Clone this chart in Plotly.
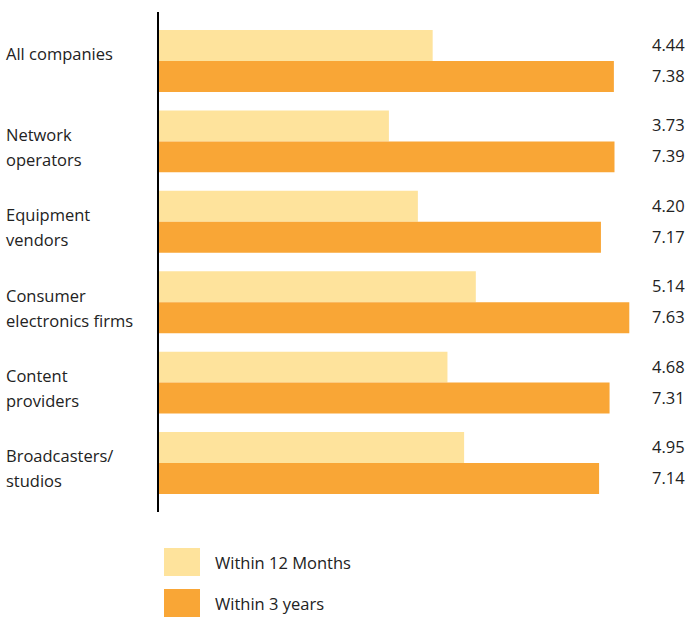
import plotly.graph_objects as go

categories = ["All companies", "Network<br>operators", "Equipment<br>vendors",
              "Consumer<br>electronics firms", "Content<br>providers", "Broadcasters/<br>studios"]
series_names = ["Within 12 Months", "Within 3 years"]
within_12_months = [4.44, 3.73, 4.20, 5.14, 4.68, 4.95]
within_3_years = [7.38, 7.39, 7.17, 7.63, 7.31, 7.14]
colors = ["#FEE39C", "#F9A636"]

W, H = 689, 617
L, R, T, B = 159, 3, 12, 105
FONT = "Open Sans"
TXT = "#222222"
FS = 16.5

fig = go.Figure()
for name, vals, col in zip(series_names, [within_12_months, within_3_years], colors):
    fig.add_trace(go.Bar(
        y=list(range(len(categories))), x=vals, orientation="h", name=name,
        marker=dict(color=col, line=dict(width=0)), showlegend=False,
    ))

annotations = []
# value labels at the right
for i in range(len(categories)):
    for vals, shift in [(within_12_months, 15.5), (within_3_years, -15.5)]:
        annotations.append(dict(
            x=1, xref="paper", y=i, yref="y", yshift=shift + 1, xshift=1,
            text=f"{vals[i]:.2f}", showarrow=False, xanchor="right", yanchor="middle",
            font=dict(family=FONT, size=FS, color=TXT),
        ))
# category labels, left aligned
plot_w = W - L - R
plot_h = H - T - B
px0 = (4 - L) / plot_w
for i, cat in enumerate(categories):
    lines = cat.split("<br>")
    shifts = [8] if len(lines) == 1 else [7, -18]
    for ln, s in zip(lines, shifts):
        annotations.append(dict(
            x=px0, xref="paper", y=i, yref="y", yshift=s,
            text=ln, showarrow=False, xanchor="left", yanchor="middle",
            font=dict(family=FONT, size=FS, color=TXT),
        ))

# legend drawn manually
shapes = []
def px_to_paper_x(px):
    return (px - L) / plot_w
def py_to_paper_y(py):
    return (H - B - py) / plot_h
legend_rows = [(548, 576), (589, 617)]
for (y0, y1), name, col in zip(legend_rows, series_names, colors):
    shapes.append(dict(type="rect", xref="paper", yref="paper",
                       x0=px_to_paper_x(164), x1=px_to_paper_x(200),
                       y0=py_to_paper_y(y1), y1=py_to_paper_y(y0),
                       fillcolor=col, line=dict(width=0)))
    annotations.append(dict(
        x=px_to_paper_x(213), xref="paper", y=py_to_paper_y((y0 + y1) / 2), yref="paper",
        text=name, showarrow=False, xanchor="left", yanchor="middle",
        font=dict(family=FONT, size=FS, color=TXT),
    ))

fig.update_layout(
    width=W, height=H,
    margin=dict(l=L, r=R, t=T, b=B, pad=0),
    paper_bgcolor="white", plot_bgcolor="white",
    barmode="group", bargap=0.23, bargroupgap=0,
    xaxis=dict(range=[0, 8.55], visible=False, fixedrange=True),
    yaxis=dict(range=[5.61, -0.61], showticklabels=False, showgrid=False, zeroline=False,
               showline=True, linecolor="black", linewidth=1.5, ticks=""),
    annotations=annotations, shapes=shapes,
)

fig.write_html("out.html")
